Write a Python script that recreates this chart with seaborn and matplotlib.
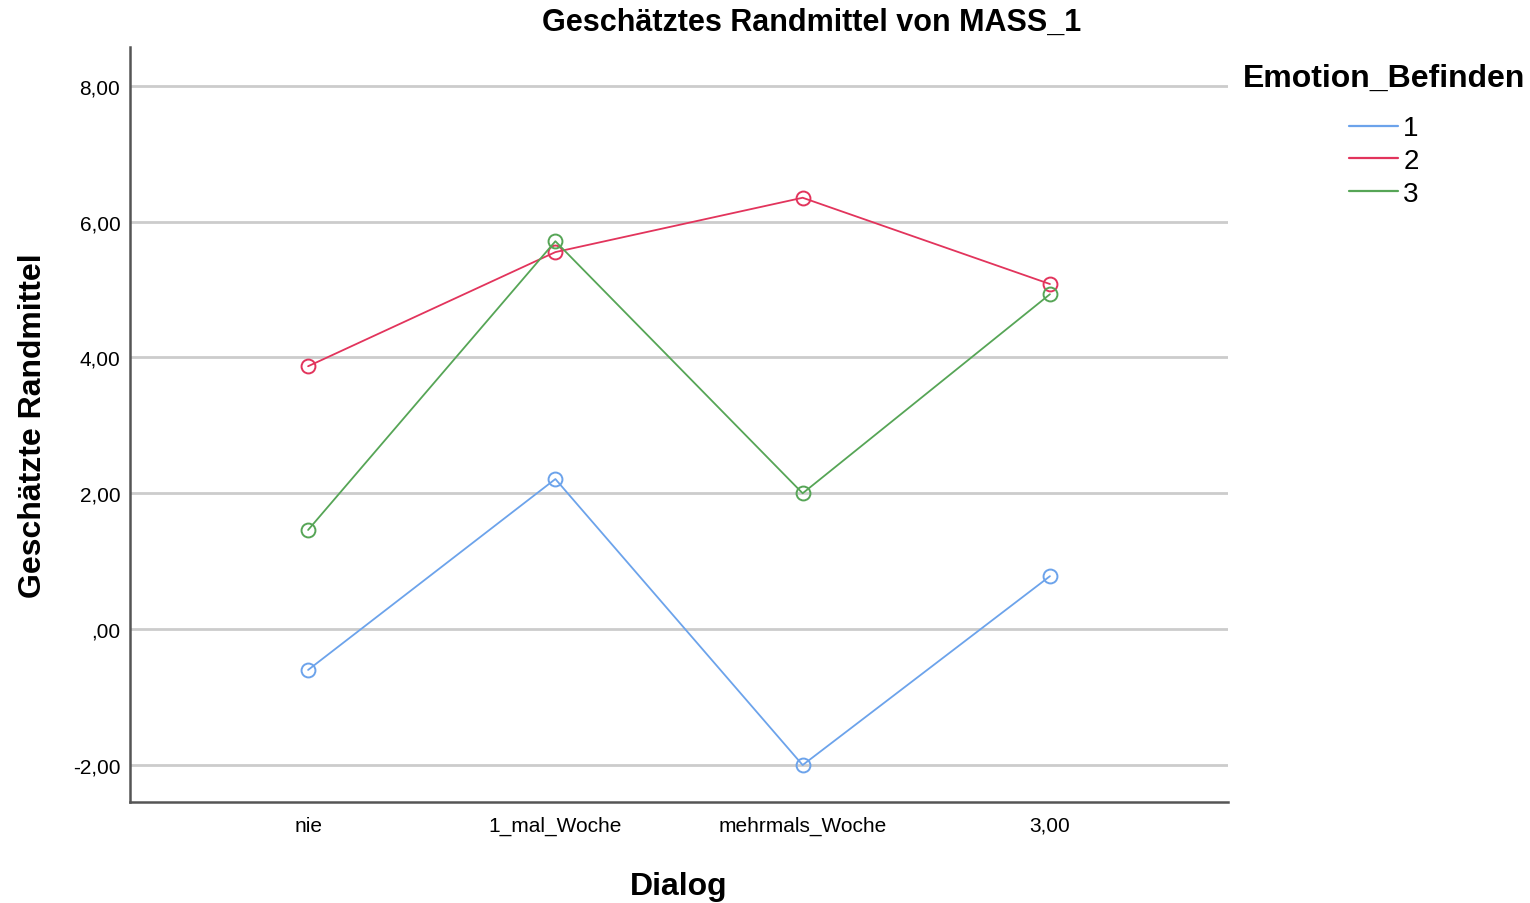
import matplotlib
matplotlib.use("Agg")
import matplotlib.pyplot as plt
import seaborn as sns
import pandas as pd

# Daten
dialog = ["nie", "1_mal_Woche", "mehrmals_Woche", "3,00"]
emotion_1 = [-0.60, 2.21, -2.00, 0.78]
emotion_2 = [3.87, 5.55, 6.35, 5.08]
emotion_3 = [1.46, 5.71, 2.00, 4.93]
emotion_labels = ["1", "2", "3"]
farben = ["#6ca3eb", "#e2345c", "#56a556"]
y_ticks = [-2, 0, 2, 4, 6, 8]
y_tick_labels = ["-2,00", ",00", "2,00", "4,00", "6,00", "8,00"]

df = pd.DataFrame({
    "Dialog": dialog * 3,
    "Randmittel": emotion_1 + emotion_2 + emotion_3,
    "Emotion_Befinden": [l for l in emotion_labels for _ in dialog],
})

sns.set_style("white")
plt.rcParams["font.family"] = ["Liberation Sans", "DejaVu Sans"]
plt.rcParams["text.color"] = "black"
plt.rcParams["axes.labelcolor"] = "black"
plt.rcParams["xtick.color"] = "black"
plt.rcParams["ytick.color"] = "black"

fig = plt.figure(figsize=(15.3, 9.04), dpi=100)
ax = fig.add_axes([0.085, 0.112, 0.7176, 0.835])

sns.lineplot(data=df, x="Dialog", y="Randmittel", hue="Emotion_Befinden",
             palette=farben, marker="o", markersize=10, markerfacecolor="none",
             markeredgewidth=1.4, linewidth=1.3, ax=ax, sort=False, legend=False)
for line in ax.lines:
    line.set_markeredgecolor(line.get_color())

ax.set_xlim(-0.72, 3.72)
ax.set_ylim(-2.54, 8.57)
ax.set_yticks(y_ticks)
ax.set_yticklabels(y_tick_labels, fontsize=15)
ax.tick_params(axis="x", labelsize=15, length=0, pad=10)
ax.tick_params(axis="y", length=0, pad=7)
ax.yaxis.grid(True, color="#cccccc", linewidth=2)
ax.set_axisbelow(True)
for s in ["top", "right"]:
    ax.spines[s].set_visible(False)
for s in ["left", "bottom"]:
    ax.spines[s].set_color("#555555")
    ax.spines[s].set_linewidth(1.8)

fig.text(812 / 1530, 1 - 23 / 904, "Geschätztes Randmittel von MASS_1",
         fontsize=22, fontweight="bold", ha="center", va="center")
ax.set_xlabel("Dialog", fontsize=23, fontweight="bold", labelpad=26)
ax.set_ylabel("Geschätzte Randmittel", fontsize=23, fontweight="bold", labelpad=18)

handles = [plt.Line2D([], [], color=c, linewidth=1.6) for c in farben]
leg = fig.legend(handles, emotion_labels, title="Emotion_Befinden",
                 loc="upper center", bbox_to_anchor=(1384 / 1530, 1 - 64 / 904),
                 frameon=False, fontsize=20,
                 title_fontproperties={"weight": "bold", "size": 23},
                 handlelength=1.75, handletextpad=0.2, labelspacing=0.25,
                 borderpad=0, borderaxespad=0)
leg._legend_box.align = "center"
leg._legend_box.sep = 16

fig.savefig("out.png", dpi=100)
